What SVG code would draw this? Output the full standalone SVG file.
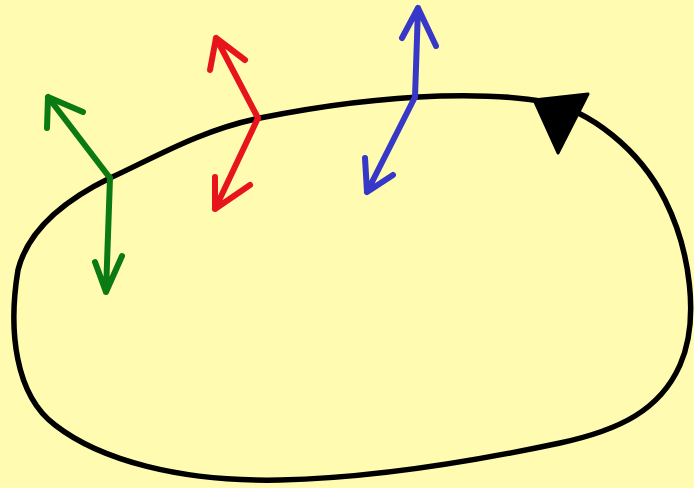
<svg xmlns="http://www.w3.org/2000/svg" width="694" height="488" viewBox="0 0 694 488">
<style>
.loop{fill:none;stroke:#000;stroke-width:5.5;stroke-linecap:round;stroke-linejoin:round}
.v{fill:none;stroke-width:6;stroke-linecap:round;stroke-linejoin:round}
.g{stroke:#0b7a12}
.r{stroke:#e8141c}
.b{stroke:#3838c8}
</style>
<rect width="694" height="488" fill="#fffbb0"/>
<g id="connectors">
<g id="loop">
<path class="loop" d="M110,178 C150,160 200,130 260,118 C320,106 380,98 440,96 C480,95 520,97 545,102 C590,110 640,150 665,200 C690,250 700,320 680,365 C660,410 620,430 560,443 C480,460 380,478 280,480 C180,482 100,460 55,425 C15,395 8,330 18,270 C28,230 65,200 110,178 Z"/>
<polygon points="534,100 588,94 558,153" fill="#000" stroke="#000" stroke-width="3" stroke-linejoin="round"/>
</g>
<g id="green">
<path class="v g" d="M110,178 L48,97 M47,128 L48,97 L83,112"/>
<path class="v g" d="M110,178 L106,292 M95,262 L106,292 L122,256"/>
</g>
<g id="red">
<path class="v r" d="M258,118 L216,38 M210,70 L216,38 L245,60"/>
<path class="v r" d="M258,118 L215,209 M215,177 L215,209 L250,185"/>
</g>
<g id="blue">
<path class="v b" d="M415,97 L418,8 M402,38 L418,8 L436,46"/>
<path class="v b" d="M415,97 L367,192 M365,158 L367,192 L393,175"/>
</g>
</g>
</svg>
